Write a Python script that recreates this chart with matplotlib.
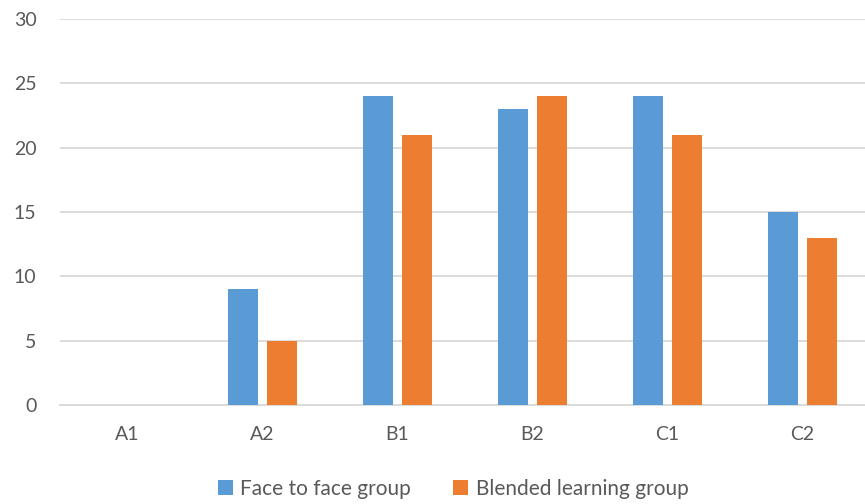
import numpy as np
import matplotlib.pyplot as plt

# chart data
levels = ['A1', 'A2', 'B1', 'B2', 'C1', 'C2']
face_to_face = [0, 9, 24, 23, 24, 15]
blended = [0, 5, 21, 24, 21, 13]
series_names = ['Face to face group', 'Blended learning group']
y_ticks = [0, 5, 10, 15, 20, 25, 30]

plt.rcParams['font.family'] = ['Lato', 'DejaVu Sans']
text_color = '#595959'
grid_color = '#D9D9D9'

fig = plt.figure(figsize=(8.65, 5.04), dpi=100)
ax = fig.add_axes([60 / 865, 99 / 504, 810 / 865, 386 / 504])

x = np.arange(len(levels))
bar_w = 0.226
gap = 0.06
off = (bar_w + gap) / 2
ax.bar(x - off, face_to_face, bar_w, color='#5B9BD5', label=series_names[0], zorder=3)
ax.bar(x + off, blended, bar_w, color='#ED7D31', label=series_names[1], zorder=3)

ax.set_xlim(-0.5, len(levels) - 0.5)
ax.set_ylim(0, 30)
ax.set_yticks(y_ticks)
ax.set_xticks(x)
ax.set_xticklabels(levels)
ax.yaxis.grid(True, color=grid_color, linewidth=1.3, zorder=0)
ax.set_axisbelow(True)

for side in ['top', 'right', 'left']:
    ax.spines[side].set_visible(False)
ax.spines['bottom'].set_color(grid_color)
ax.spines['bottom'].set_linewidth(1.3)
ax.tick_params(axis='both', length=0, labelsize=14, colors=text_color)
ax.tick_params(axis='y', pad=17)
ax.tick_params(axis='x', pad=15)

fig.legend(loc='center', bbox_to_anchor=(453 / 865, 15 / 504), ncol=2, frameon=False,
           fontsize=15, labelcolor=text_color, handlelength=0.75, handleheight=0.75,
           handletextpad=0.35, columnspacing=2.0)

fig.savefig('out.png', dpi=100)
